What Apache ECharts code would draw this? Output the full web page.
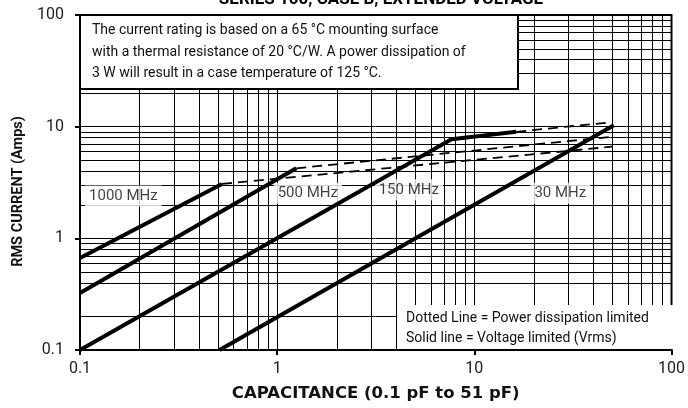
<!DOCTYPE html>
<html>
<head>
<meta charset="utf-8">
<script src="https://cdn.jsdelivr.net/npm/echarts@6/dist/echarts.min.js"></script>
<style>
  html, body { margin: 0; padding: 0; background: #fff; }
  #chart { width: 688px; height: 408px; }
</style>
</head>
<body>
<div id="chart"></div>
<script>
// capacitance (pF) vs rms current (A)
var solid1000 = [[0.1, 0.667], [0.525, 3.07]];
var dash1000 = [[0.525, 3.07], [50, 6.62]];
var solid500 = [[0.1, 0.324], [1.25, 4.24]];
var dash500 = [[1.25, 4.24], [50, 8.13]];
var solid150 = [[0.1, 0.1], [7.66, 7.7], [16.3, 9.0]];
var dash150 = [[16.3, 9.0], [48, 10.9]];
var solid30 = [[0.51, 0.1], [51, 10.3]];

// frequency labels: [x, y, text]
var freqLabels = [
    [0.166, 2.39, '1000 MHz'],
    [1.43, 2.54, '500 MHz'],
    [4.65, 2.72, '150 MHz'],
    [27.3, 2.54, '30 MHz']
];

// minor grid lines
var xMinor = [0.2, 0.3, 0.4, 0.5, 0.6, 0.7, 0.8, 0.9, 2, 3, 4, 5, 6, 7, 8, 9, 20, 30, 40, 50, 60, 70, 80, 90];
var yMinor = [0.2, 0.4, 0.5, 0.6, 0.7, 0.8, 0.9, 2, 3, 4, 5, 6, 7, 8, 9, 20, 30, 40, 50, 60, 70, 80, 90];

var noteText = [
    'The current rating is based on a 65 \u00b0C mounting surface',
    'with a thermal resistance of 20 \u00b0C/W. A power dissipation of',
    '3 W will result in a case temperature of 125 \u00b0C.'
];
var legendText = [
    'Dotted Line = Power dissipation limited',
    'Solid line = Voltage limited (Vrms)'
];

var myChart = echarts.init(document.getElementById('chart'), null, { renderer: 'canvas' });

function solidLine(data) {
    return {
        type: 'line',
        data: data,
        symbol: 'none',
        z: 5,
        lineStyle: { color: '#000', width: 4 },
        silent: true
    };
}
function dashLine(data) {
    return {
        type: 'line',
        data: data,
        symbol: 'none',
        z: 5,
        lineStyle: { color: '#000', width: 1.8, type: [10, 6] },
        silent: true
    };
}

// crisp 1px minor grid lines, placed with the axis scales
function gridSeries(values, vertical) {
    return {
        type: 'custom',
        silent: true,
        z: 1,
        data: values.map(function (v) { return vertical ? [v, 1] : [1, v]; }),
        renderItem: function (params, api) {
            var a, b;
            if (vertical) {
                a = api.coord([api.value(0), 0.1]);
                b = api.coord([api.value(0), 100]);
                var x = Math.round(a[0]) + 0.5;
                return { type: 'line', shape: { x1: x, y1: a[1], x2: x, y2: b[1] }, style: { stroke: '#000', lineWidth: 1 } };
            }
            a = api.coord([0.1, api.value(1)]);
            b = api.coord([100, api.value(1)]);
            var y = Math.round(a[1]) + 0.5;
            return { type: 'line', shape: { x1: a[0], y1: y, x2: b[0], y2: y }, style: { stroke: '#000', lineWidth: 1 } };
        }
    };
}

var option = {
    animation: false,
    backgroundColor: '#fff',
    textStyle: { fontFamily: 'Roboto' },
    title: {
        text: 'SERIES 100, CASE B, EXTENDED VOLTAGE',
        left: 376,
        textAlign: 'center',
        top: -14,
        textStyle: { fontFamily: 'Roboto', fontWeight: 'bold', fontSize: 17, color: '#000' }
    },
    grid: {
        left: 80,
        right: 11,
        top: 15,
        bottom: 58,
        show: true,
        borderColor: '#000',
        borderWidth: 2,
        backgroundColor: '#fff'
    },
    xAxis: {
        type: 'log',
        logBase: 10,
        min: 0.1,
        max: 100,
        name: 'CAPACITANCE (0.1 pF to 51 pF)',
        nameLocation: 'middle',
        nameGap: 35,
        nameTextStyle: { fontFamily: 'DejaVu Sans', fontWeight: 'bold', fontSize: 16.5, color: '#111' },
        axisLine: { show: true, lineStyle: { color: '#000', width: 2 } },
        axisTick: { show: true, length: 5, lineStyle: { color: '#000', width: 2 } },
        axisLabel: { color: '#222', fontSize: 16, margin: 11 },
        splitLine: { show: true, lineStyle: { color: '#000', width: 1 } }
    },
    yAxis: {
        type: 'log',
        logBase: 10,
        min: 0.1,
        max: 100,
        name: 'RMS CURRENT (Amps)',
        nameLocation: 'middle',
        nameRotate: 90,
        nameGap: 52,
        nameTextStyle: { fontFamily: 'Roboto', fontWeight: 'bold', fontSize: 14.5, color: '#111', padding: [0, 18, 0, 0] },
        axisLine: { show: true, lineStyle: { color: '#000', width: 2 } },
        axisTick: { show: true, length: 5, lineStyle: { color: '#000', width: 2 } },
        axisLabel: { color: '#222', fontSize: 16, margin: 16 },
        splitLine: { show: true, lineStyle: { color: '#000', width: 1 } }
    },
    series: [
        gridSeries(xMinor, true),
        gridSeries(yMinor, false),
        {
            type: 'scatter',
            data: freqLabels,
            symbolSize: 1,
            z: 3,
            silent: true,
            itemStyle: { color: 'rgba(0,0,0,0)' },
            label: {
                show: true,
                position: 'inside',
                formatter: function (p) { return p.value[2]; },
                color: '#111',
                fontSize: 15,
                backgroundColor: '#fff',
                padding: [3, 4]
            }
        },
        solidLine(solid1000),
        dashLine(dash1000),
        solidLine(solid500),
        dashLine(dash500),
        solidLine(solid150),
        dashLine(dash150),
        solidLine(solid30)
    ],
    graphic: [
        {
            type: 'rect',
            z: 100,
            shape: { x: 80, y: 15, width: 438, height: 74 },
            style: { fill: '#fff', stroke: '#000', lineWidth: 2 }
        },
        {
            type: 'text',
            z: 101,
            left: 92,
            top: 20,
            style: {
                text: noteText.join('\n'),
                font: '14px Roboto',
                lineHeight: 21.5,
                fill: '#111'
            }
        },
        {
            type: 'rect',
            z: 100,
            shape: { x: 397, y: 305, width: 279, height: 44 },
            style: { fill: '#fff' }
        },
        {
            type: 'text',
            z: 101,
            left: 406,
            top: 308,
            style: {
                text: legendText.join('\n'),
                font: '14px Roboto',
                lineHeight: 20,
                fill: '#111'
            }
        }
    ]
};

if (option && typeof option === 'object') {
    myChart.setOption(option, true);
}
</script>
</body>
</html>
